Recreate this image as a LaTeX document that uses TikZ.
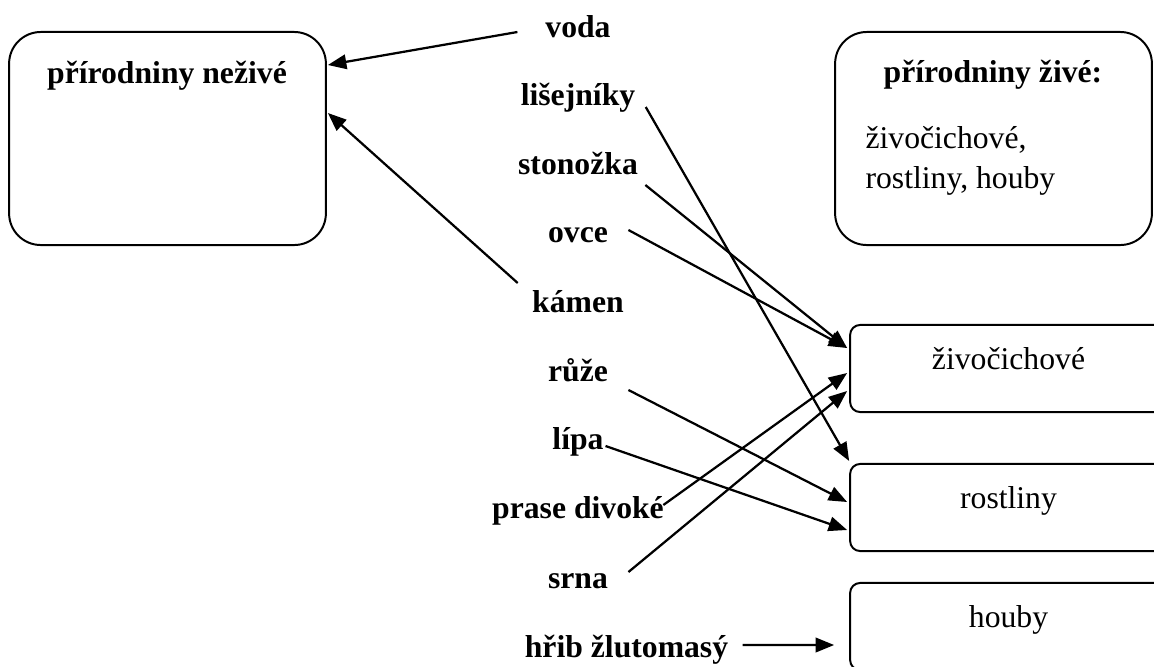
\documentclass[tikz,border=0pt]{standalone}
\usepackage{fontspec}
\setmainfont{Liberation Serif}
\usepackage{tikz}
\usetikzlibrary{arrows.meta, positioning}
\tikzset{>={Triangle[length=7pt, width=5.5pt]}}

\begin{document}
\begin{tikzpicture}[x=0.3788pt, y=-0.3788pt,
  every node/.style={font=\fontsize{12}{15}\selectfont},
  bigbox/.style={draw, line width=0.75pt, rounded corners=12pt, minimum width=120pt, minimum height=80.7pt},
  smallbox/.style={draw, line width=0.75pt, rounded corners=3.8pt, minimum width=120pt, minimum height=33pt, text height=6pt, text depth=5pt},
  item/.style={font=\fontsize{12}{15}\selectfont\bfseries, inner sep=0pt, anchor=base},
  plain/.style={inner sep=0pt, anchor=base west},
  link/.style={->, line width=0.85pt}]

% --- Frame ---
\useasboundingbox (0,0) rectangle (1154,666);
\clip (0,0) rectangle (1154,666);

% --- Boxes ---
\node[bigbox] (neziva) at (167.5,138.5) {};
\node[bigbox] (ziva) at (993.5,138.5) {};
\node[smallbox] (zivocichove) at (1008.5,368.5) {živočichové};
\node[smallbox] (rostliny) at (1008.5,507.5) {rostliny};
\node[smallbox] (houby) at (1008.5,626.5) {houby};

% --- Box titles ---
\node[item] (nezivaTitle) at (167,83) {přírodniny neživé};
\node[item] (zivaTitle) at (993,82) {přírodniny živé:};
\node[plain] (zivaList1) at (865,148) {živočichové,};
\node[plain] (zivaList2) at (865,188) {rostliny, houby};

% --- Items ---
\node[item] (voda) at (578,37) {voda};
\node[item] (lisejniky) at (578,105) {lišejníky};
\node[item] (stonozka) at (578,174) {stonožka};
\node[item] (ovce) at (578,242) {ovce};
\node[item] (kamen) at (578,312) {kámen};
\node[item] (ruze) at (578,381) {růže};
\node[item] (lipa) at (578,449) {lípa};
\node[item] (prase) at (578,518) {prase divoké};
\node[item] (srna) at (578,588) {srna};
\node[item] (hrib) at (626.5,657) {hřib žlutomasý};

% --- Arrows ---
\draw[link] ([shift={(-27.5,-5)}]voda.base west) -- ([shift={(1,-73.5)}]neziva.east);
\draw[link] ([shift={(-14,-29)}]kamen.base west) -- ([shift={(1,-25.5)}]neziva.east);
\draw[link] ([shift={(10,2)}]lisejniky.base east) -- ([shift={(0,-2)}]rostliny.north west);
\draw[link] ([shift={(7,11)}]stonozka.base east) -- ([shift={(-2,-20.5)}]zivocichove.west);
\draw[link] ([shift={(20,-12)}]ovce.base east) -- ([shift={(-2,-20.5)}]zivocichove.west);
\draw[link] ([shift={(20,9)}]ruze.base east) -- ([shift={(-2,-5.5)}]rostliny.west);
\draw[link] ([shift={(1.5,-3)}]lipa.base east) -- ([shift={(-2,22.5)}]rostliny.west);
\draw[link] ([shift={(-1,-13)}]prase.base east) -- ([shift={(-2,4.5)}]zivocichove.west);
\draw[link] ([shift={(20,-16)}]srna.base east) -- ([shift={(-2,22.5)}]zivocichove.west);
\draw[link] ([shift={(14,-12)}]hrib.base east) -- ([shift={(-15,18.5)}]houby.west);

\end{tikzpicture}
\end{document}
